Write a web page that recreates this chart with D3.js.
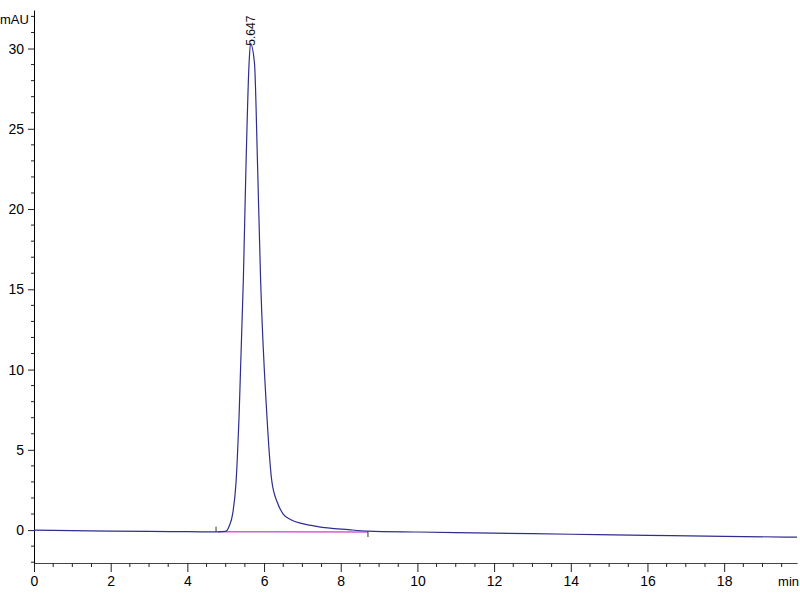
<!DOCTYPE html>
<html>
<head>
<meta charset="utf-8">
<script src="https://cdn.jsdelivr.net/npm/d3@7"></script>
<style>
  body { margin: 0; background: #fff; }
  svg text { font-family: "Liberation Sans", Arial, sans-serif; }
</style>
</head>
<body>
<svg class="mysvg"></svg>
<script>
// signal trace (min, mAU)
const times = [0, 1, 2, 3, 4, 4.8, 5.0, 5.1, 5.18, 5.27, 5.35, 5.46, 5.53, 5.61, 5.647,
  5.75, 5.83, 5.91, 6.07, 6.2, 6.35, 6.5, 6.7, 7.0, 7.4, 8.2, 8.7, 10, 12, 14, 16, 18, 19.9];
const signal = [0, -0.03, -0.06, -0.08, -0.1, -0.11, -0.08, 0.3, 1.0, 3.0, 7.2, 15.6, 22.8, 29.1, 30.3,
  29.1, 22.8, 15.6, 7.3, 3.1, 1.7, 1.0, 0.65, 0.4, 0.22, 0.03, -0.06, -0.12, -0.19, -0.26, -0.33, -0.39, -0.44];

// integration baseline and peak label
const baseTimes = [4.8, 8.71];
const baseValues = [-0.1, -0.12];
const peakTime = 5.647;
const peakHeight = 30.3;
const peakLabel = "5.647";

const xMajor = [0, 2, 4, 6, 8, 10, 12, 14, 16, 18];
const yMajor = [0, 5, 10, 15, 20, 25, 30];

const width = 800, height = 600;
const svg = d3.select(".mysvg").attr("width", width).attr("height", height);

const xScale = d3.scaleLinear().domain([0, 19.9]).range([34, 797]);
const yScale = d3.scaleLinear().domain([-2.05, 32.4]).range([563, 10]);

const axisColor = "#222";

// x axis
const xMinor = d3.range(0, 20, 0.5).filter((t) => xMajor.indexOf(t) < 0);
const gx = svg.append("g").attr("transform", `translate(0, ${yScale(-2.05)})`);
gx.call(d3.axisBottom(xScale).tickValues(xMajor).tickSize(9).tickPadding(4).tickSizeOuter(0)
    .tickFormat(d3.format("d")))
  .call((g) => g.select(".domain").attr("stroke", "#444"));
gx.selectAll(".tick line").attr("stroke", axisColor);
gx.selectAll(".tick text").attr("fill", "#000").style("font-size", "14px");
gx.selectAll(".minor")
  .data(xMinor)
  .join("line")
  .attr("class", "minor")
  .attr("x1", (d) => xScale(d)).attr("x2", (d) => xScale(d))
  .attr("y1", 0).attr("y2", 4)
  .attr("stroke", axisColor);

svg.append("text")
  .attr("x", 799).attr("y", 586)
  .attr("text-anchor", "end")
  .style("font-size", "13px")
  .text("min");

// y axis
const yMinor = d3.range(-2, 33, 1).filter((v) => yMajor.indexOf(v) < 0);
const gy = svg.append("g").attr("transform", `translate(${xScale(0)}, 0)`);
gy.call(d3.axisLeft(yScale).tickValues(yMajor).tickSize(6).tickPadding(4).tickSizeOuter(0))
  .call((g) => g.select(".domain").attr("stroke", "#000"));
gy.selectAll(".tick line").attr("stroke", axisColor);
gy.selectAll(".tick text").attr("fill", "#000").style("font-size", "14px");
gy.selectAll(".minor")
  .data(yMinor)
  .join("line")
  .attr("class", "minor")
  .attr("x1", -3).attr("x2", 0)
  .attr("y1", (d) => yScale(d)).attr("y2", (d) => yScale(d))
  .attr("stroke", axisColor);

svg.append("text")
  .attr("x", 0).attr("y", 24)
  .style("font-size", "13px")
  .text("mAU");

// integration baseline
svg.append("path")
  .datum(baseTimes.map((t, i) => [t, baseValues[i]]))
  .attr("d", d3.line().x((d) => xScale(d[0])).y((d) => yScale(d[1])))
  .attr("stroke", "#d060d0")
  .attr("stroke-width", 1.5)
  .attr("fill", "none");

// start / end markers
svg.append("line")
  .attr("x1", xScale(baseTimes[0]) - 2).attr("x2", xScale(baseTimes[0]) - 2)
  .attr("y1", yScale(baseValues[0]) - 5).attr("y2", yScale(baseValues[0]))
  .attr("stroke", "#333");
svg.append("line")
  .attr("x1", xScale(baseTimes[1])).attr("x2", xScale(baseTimes[1]))
  .attr("y1", yScale(baseValues[1])).attr("y2", yScale(baseValues[1]) + 5)
  .attr("stroke", "#333");

// signal
const line = d3.line()
  .x((d) => xScale(d[0]))
  .y((d) => yScale(d[1]))
  .curve(d3.curveMonotoneX);

svg.append("path")
  .datum(times.map((t, i) => [t, signal[i]]))
  .attr("d", line)
  .attr("stroke", "#2e2e8e")
  .attr("stroke-width", 1.2)
  .attr("fill", "none");

// peak label
svg.append("text")
  .attr("transform", `translate(${xScale(peakTime) + 4}, ${yScale(peakHeight) + 2}) rotate(-90)`)
  .style("font-size", "12px")
  .attr("fill", "#111")
  .text(peakLabel);
</script>
</body>
</html>
